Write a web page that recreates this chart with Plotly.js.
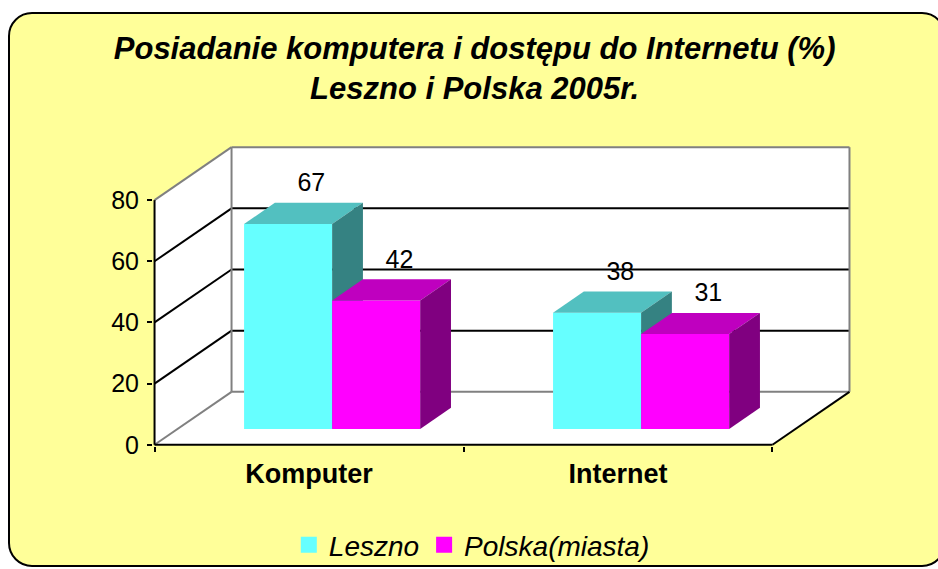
<!DOCTYPE html>
<html>
<head>
<meta charset="utf-8">
<script src="https://cdn.plot.ly/plotly-3.0.1.min.js"></script>
<style>
  html, body { margin: 0; padding: 0; background: #ffffff; width: 938px; height: 569px; overflow: hidden; }
  #frame { position: absolute; left: 8px; top: 12px; width: 934px; height: 551px;
           background: #FFFF99; border: 2px solid #000; border-radius: 24px; }
  #chart { position: absolute; left: 0; top: 0; width: 938px; height: 569px; }
</style>
</head>
<body>
<div id="frame"></div>
<div id="chart"></div>
<script>
// ---- data ----
const categories = ['Komputer', 'Internet'];
const seriesNames = ['Leszno', 'Polska(miasta)'];
const leszno = [67, 38];
const polska = [42, 31];
const yTickVals = [0, 20, 40, 60, 80];
const yTickText = ['0', '20', '40', '60', '80'];

// ---- styling / projection constants ----
const FONT = 'Liberation Sans, Arial, sans-serif';
const DX = 0.2492, DY = 17.31;        // full depth of the 3D box in axis units
const F0 = 0.3, F1 = 0.7;             // depth slice occupied by the bars
const BW = 0.285;                     // bar width (category units)
const YMAX = 80;
const X0 = -0.5, X1 = categories.length - 0.5;
const faceColors = [
  {front: '#66FFFF', top: '#52C0C0', side: '#358282'},
  {front: '#FF00FF', top: '#BF00BF', side: '#800080'}
];
const seriesVals = [leszno, polska];

const traces = [];
const bdx = (F1 - F0) * DX, bdy = (F1 - F0) * DY;
const base = F0 * DY;
categories.forEach((cat, c) => {
  seriesVals.forEach((vals, s) => {
    const v = vals[c];
    const xl = c - BW + s * BW + F0 * DX;
    const xr = xl + BW;
    const h = base + v;
    const col = faceColors[s];
    const poly = (xs, ys, color) => traces.push({
      type: 'scatter', mode: 'lines', x: xs, y: ys, fill: 'toself',
      fillcolor: color, line: {width: 0, color: color}, showlegend: false, hoverinfo: 'skip'
    });
    poly([xl, xr, xr, xl, xl], [base, base, h, h, base], col.front);
    poly([xl, xr, xr + bdx, xl + bdx, xl], [h, h, h + bdy, h + bdy, h], col.top);
    poly([xr, xr + bdx, xr + bdx, xr, xr], [base, base + bdy, h + bdy, h, base], col.side);
  });
});

// data labels
seriesVals.forEach((vals, s) => {
  traces.push({
    type: 'scatter', mode: 'text',
    x: categories.map((_, c) => c - BW / 2 + s * BW + 0.15),
    y: vals.map(v => v + 18),
    text: vals.map(String), textposition: 'middle center',
    textfont: {family: FONT, size: 25, color: '#000'},
    cliponaxis: false, showlegend: false, hoverinfo: 'skip'
  });
});

// legend entries
seriesNames.forEach((name, s) => {
  traces.push({
    type: 'scatter', mode: 'markers', x: [null], y: [null], name: name,
    marker: {symbol: 'square', size: 16, color: faceColors[s].front}
  });
});

// ---- box walls / floor / gridlines ----
const shapes = [];
const GRAY = '#808080';
const fillPath = (d) => shapes.push({type: 'path', xref: 'x', yref: 'y', path: d,
  fillcolor: '#ffffff', line: {width: 0}, layer: 'below'});
const seg = (xa, ya, xb, yb, color) => shapes.push({type: 'line', xref: 'x', yref: 'y',
  x0: xa, y0: ya, x1: xb, y1: yb, line: {color: color, width: 2}, layer: 'below'});

fillPath(`M ${X0},0 L ${X0},${YMAX} L ${X0 + DX},${YMAX + DY} L ${X0 + DX},${DY} Z`);
fillPath(`M ${X0 + DX},${DY} L ${X1 + DX},${DY} L ${X1 + DX},${YMAX + DY} L ${X0 + DX},${YMAX + DY} Z`);
fillPath(`M ${X0},0 L ${X1},0 L ${X1 + DX},${DY} L ${X0 + DX},${DY} Z`);

yTickVals.forEach(v => {
  if (v > 0 && v < YMAX) {
    seg(X0, v, X0 + DX, v + DY, '#000');
    seg(X0 + DX, v + DY, X1 + DX, v + DY, '#000');
  }
});
seg(X0, YMAX, X0 + DX, YMAX + DY, GRAY);
seg(X0, 0, X0 + DX, DY, GRAY);
seg(X0 + DX, DY, X0 + DX, YMAX + DY, GRAY);
seg(X0 + DX, YMAX + DY, X1 + DX, YMAX + DY, GRAY);
seg(X1 + DX, DY, X1 + DX, YMAX + DY, GRAY);
seg(X0 + DX, DY, X1 + DX, DY, GRAY);
seg(X0, 0, X0, YMAX, '#000');
seg(X0, 0, X1, 0, '#000');
seg(X1, 0, X1 + DX, DY, '#000');

const layout = {
  width: 938, height: 569,
  paper_bgcolor: 'rgba(0,0,0,0)', plot_bgcolor: 'rgba(0,0,0,0)',
  margin: {l: 153, r: 79, t: 142, b: 123},
  font: {family: FONT, color: '#000'},
  title: {
    text: '<b><i>Posiadanie komputera i dostępu do Internetu (%)<br>Leszno i Polska 2005r.</i></b>',
    font: {family: FONT, size: 31, color: '#000'},
    x: 0.506, xanchor: 'center', xref: 'container',
    y: 0.897, yanchor: 'top', yref: 'container'
  },
  xaxis: {
    range: [-0.505, 1.78], showgrid: false, zeroline: false, showline: false,
    tickvals: categories.map((_, i) => i), ticktext: categories.map(t => '<b>' + t + '</b>'),
    ticks: '', tickfont: {family: FONT, size: 27, color: '#000'}, ticklabelstandoff: 9,
    minor: {tickvals: [X0, 0.5, X1], ticks: 'outside', ticklen: 5, tickwidth: 2, tickcolor: '#000', showgrid: false},
    fixedrange: true
  },
  yaxis: {
    range: [-0.4, 99], showgrid: false, zeroline: false, showline: false,
    tickvals: yTickVals, ticktext: yTickText, ticks: 'outside', ticklen: 5, tickwidth: 2, tickcolor: '#000',
    tickfont: {family: FONT, size: 25, color: '#000'}, ticklabelstandoff: 3,
    fixedrange: true
  },
  shapes: shapes,
  showlegend: true,
  legend: {
    orientation: 'h', xref: 'container', yref: 'container',
    x: 0.503, xanchor: 'center', y: 0.042, yanchor: 'middle',
    bgcolor: 'rgba(0,0,0,0)', font: {family: FONT, size: 28, color: '#000', style: 'italic'},
    itemclick: false, itemdoubleclick: false
  },
  hovermode: false
};

Plotly.newPlot('chart', traces, layout, {displayModeBar: false, staticPlot: true});
</script>
</body>
</html>
